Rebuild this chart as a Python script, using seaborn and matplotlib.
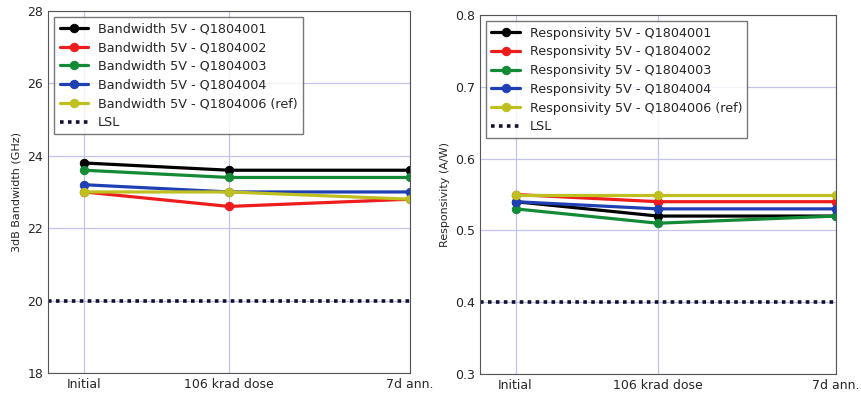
import numpy as np
import pandas as pd
import matplotlib.pyplot as plt
import seaborn as sns

# x positions of the three measurement steps
steps = [0, 4, 9]
step_labels = ['Initial', '106 krad dose', '7d ann.']

parts = ['Q1804001', 'Q1804002', 'Q1804003', 'Q1804004', 'Q1804006 (ref)']
colors = ['black', '#ee1c1c', '#138a36', '#1f3fb4', '#bfbf1f']

bw_001 = [23.8, 23.6, 23.6]
bw_002 = [23.0, 22.6, 22.8]
bw_003 = [23.6, 23.4, 23.4]
bw_004 = [23.2, 23.0, 23.0]
bw_006 = [23.0, 23.0, 22.8]
bw_lsl = 20

resp_001 = [0.54, 0.52, 0.52]
resp_002 = [0.55, 0.54, 0.54]
resp_003 = [0.53, 0.51, 0.52]
resp_004 = [0.54, 0.53, 0.53]
resp_006 = [0.55, 0.55, 0.55]
resp_lsl = 0.4

sns.set_style('white')
plt.rcParams['font.family'] = ['DejaVu Sans']

fig = plt.figure(figsize=(8.62, 3.94), dpi=100)
ax1 = fig.add_axes([0.0557, 0.0533, 0.42, 0.919])
ax2 = fig.add_axes([0.5568, 0.0508, 0.413, 0.911])


def draw(ax, series, name, lsl, ylim, yticks, ylabel):
    for vals, part, c in zip(series, parts, colors):
        df = pd.DataFrame({'step': steps, 'value': vals})
        sns.lineplot(data=df, x='step', y='value', ax=ax, color=c, lw=2.3,
                     marker='o', markersize=6, markeredgecolor=c,
                     label=f'{name} 5V - {part}')
    ax.axhline(lsl, color='#111133', ls=(0, (1, 1.2)), lw=2.6, label='LSL')
    ax.set_xlim(-1, 9)
    ax.set_ylim(*ylim)
    ax.set_yticks(yticks)
    ax.set_xticks(steps)
    ax.set_xticklabels(step_labels)
    ax.grid(True, color='#c2c2ee', lw=0.9)
    ax.set_axisbelow(True)
    ax.set_xlabel('')
    ax.set_ylabel(ylabel, fontsize=8)
    ax.tick_params(direction='in', labelsize=9, length=4)
    for s in ax.spines.values():
        s.set_color('#555555')
    leg = ax.legend(loc='upper left', fontsize=9.2, frameon=True, fancybox=False,
                    handlelength=2.2, borderaxespad=0.5, labelspacing=0.45)
    leg.get_frame().set_edgecolor('#555555')
    leg.get_frame().set_linewidth(1)


draw(ax1, [bw_001, bw_002, bw_003, bw_004, bw_006], 'Bandwidth', bw_lsl,
     (18, 28), [18, 20, 22, 24, 26, 28], '3dB Bandwidth (GHz)')
draw(ax2, [resp_001, resp_002, resp_003, resp_004, resp_006], 'Responsivity', resp_lsl,
     (0.3, 0.8), [0.3, 0.4, 0.5, 0.6, 0.7, 0.8], 'Responsivity (A/W)')

fig.savefig('out.png', dpi=100)
